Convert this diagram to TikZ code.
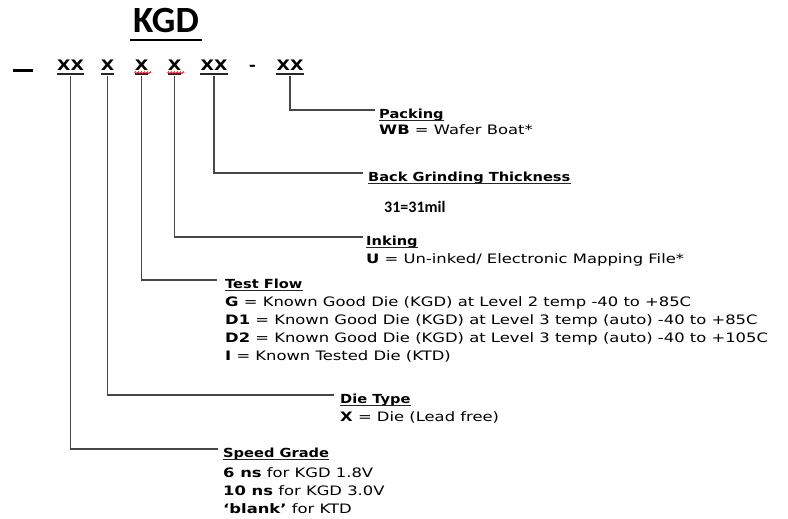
\documentclass[tikz,border=0pt]{standalone}
\usepackage{fontspec}
\setmainfont{DejaVu Sans}[FakeStretch=1.26]
\newfontfamily\headfont{DejaVu Sans}[FakeStretch=1.17]
\newfontfamily\codefont{DejaVu Sans}[FakeStretch=1.2]
\newfontfamily\titlefont{Carlito}
\usetikzlibrary{decorations.pathmorphing}
\begin{document}
\begin{tikzpicture}[x=1pt,y=-1pt,
 bigtitle/.style={font=\titlefont\bfseries\fontsize{37}{40}\selectfont, inner sep=0pt, anchor=base},
 code/.style={font=\codefont\bfseries\fontsize{14.5}{17}\selectfont, inner sep=0pt, anchor=base},
 head/.style={font=\headfont\bfseries\fontsize{12.5}{15}\selectfont, inner sep=0pt, anchor=base west, text height=8pt},
 body/.style={font=\fontsize{13}{16}\selectfont, inner sep=0pt, anchor=base west},
 note/.style={font=\titlefont\bfseries\fontsize{16}{18}\selectfont, inner sep=0pt, anchor=base west},
 lead/.style={draw=black!72, line width=1.6pt},
 uline/.style={draw=black!85, line width=1.3pt},
 hline/.style={draw=black!85, line width=1.2pt},
 squig/.style={draw=red, line width=0.7pt, decorate, decoration={zigzag, segment length=3pt, amplitude=1pt}}]
\useasboundingbox (0,0) rectangle (788,519);

% title
\node[bigtitle] (kgd) at (166,33) {KGD};
\node[inner sep=0pt, anchor=center] (kgdul) at (166,40) {\rule{72pt}{2.8pt}};

% code row
\node[inner sep=0pt] (dash) at (23,70.7) {\rule{20pt}{2.5pt}};
\node[code] (c1) at (70.5,70.7) {XX};
\node[code] (c2) at (107.5,70.7) {X};
\node[code] (c3) at (141.5,70.7) {X};
\node[code] (c4) at (174.5,70.7) {X};
\node[code] (c5) at (214,70.7) {XX};
\node[code] (hy) at (252.5,70.7) {-};
\node[code] (c6) at (290,70.7) {XX};
\foreach \c in {c1,c2,c3,c4,c5,c6}
  \draw[uline] ([yshift=-3.3pt]\c.base west) -- ([yshift=-3.3pt]\c.base east);
\draw[squig] ([yshift=-2pt]c3.base west) -- ([xshift=3pt,yshift=-2pt]c3.base east);
\draw[squig] ([yshift=-2pt]c4.base west) -- ([xshift=3pt,yshift=-2pt]c4.base east);

% headings
\node[head] (pack) at (379,118) {Packing};
\node[head] (bgt) at (368,181) {Back Grinding Thickness};
\node[head] (ink) at (366,245) {Inking};
\node[head] (tf) at (225,288) {Test Flow};
\node[head] (dt) at (340,403) {Die Type};
\node[head] (sg) at (223,457) {Speed Grade};
\foreach \h in {pack,bgt,ink,tf,dt,sg}
  \draw[hline] ([yshift=-2.6pt]\h.base west) -- ([yshift=-2.6pt]\h.base east);

% body texts
\node[body] (wb) at (379,135) {\textbf{WB} = Wafer Boat*};
\node[note] (mil) at (384,212) {31=31mil};
\node[body] (u) at (366,263) {\textbf{U} = Un-inked/ Electronic Mapping File*};
\node[body] (g) at (225,306) {\textbf{G} = Known Good Die (KGD) at Level 2 temp -40 to +85C};
\node[body] (d1) at (225,324) {\textbf{D1} = Known Good Die (KGD) at Level 3 temp (auto) -40 to +85C};
\node[body] (d2) at (225,342) {\textbf{D2} = Known Good Die (KGD) at Level 3 temp (auto) -40 to +105C};
\node[body] (i) at (225,360) {\textbf{I} = Known Tested Die (KTD)};
\node[body] (x) at (340,421) {\textbf{X} = Die (Lead free)};
\node[body] (s6) at (223,477) {\textbf{6 ns} for KGD 1.8V};
\node[body] (s10) at (223,495) {\textbf{10 ns} for KGD 3.0V};
\node[body] (sb) at (223,513) {\textbf{‘blank’} for KTD};

% connectors
\draw[lead] ([yshift=-5pt]c6.base) |- ([xshift=-4pt]pack.north west);
\draw[lead] ([yshift=-5pt]c5.base) |- ([xshift=-5pt]bgt.north west);
\draw[lead] ([yshift=-5pt]c4.base) |- ([xshift=-3pt]ink.north west);
\draw[lead] ([yshift=-5pt]c3.base) |- ([xshift=-8pt]tf.north west);
\draw[lead] ([yshift=-5pt]c2.base) |- ([xshift=-6pt]dt.north west);
\draw[lead] ([yshift=-5pt]c1.base) |- ([xshift=-5pt]sg.north west);
\end{tikzpicture}
\end{document}
